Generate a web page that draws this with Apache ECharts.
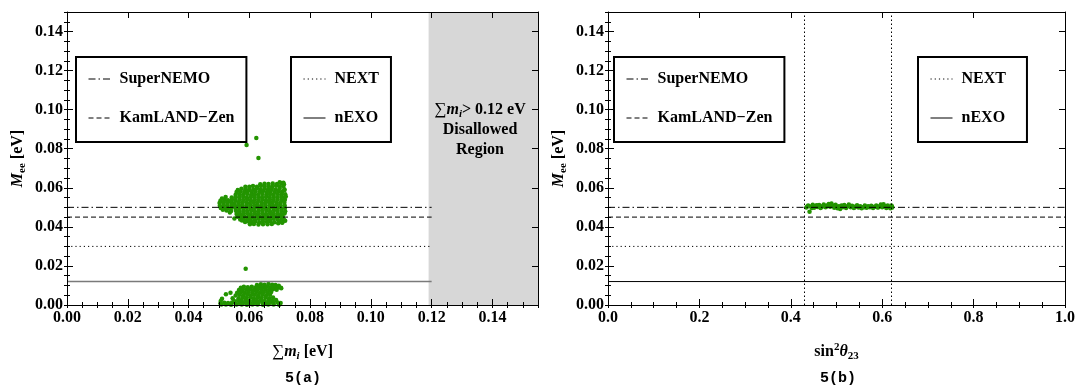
<!DOCTYPE html>
<html>
<head>
<meta charset="utf-8">
<script src="https://cdn.jsdelivr.net/npm/echarts@6/dist/echarts.min.js"></script>
<style>
  html, body { margin: 0; padding: 0; background: #fff; }
  #chart { width: 1078px; height: 387px; }
</style>
</head>
<body>
<div id="chart"></div>
<script>
// Mee vs sum of masses, upper blob [sum m_i (eV), Mee (eV)]
var sumBlobHigh = [
  [0.0636,0.0618],[0.0650,0.0621],[0.0663,0.0619],[0.0677,0.0622],[0.0691,0.0620],[0.0705,0.0623],[0.0714,0.0618],
  [0.0587,0.0605],[0.0600,0.0605],[0.0612,0.0609],[0.0625,0.0606],[0.0638,0.0610],[0.0650,0.0607],[0.0663,0.0609],[0.0675,0.0606],[0.0688,0.0610],[0.0700,0.0607],[0.0712,0.0609],
  [0.0562,0.0589],[0.0574,0.0595],[0.0587,0.0592],[0.0600,0.0594],[0.0613,0.0591],[0.0625,0.0596],[0.0637,0.0593],[0.0650,0.0595],[0.0662,0.0592],[0.0674,0.0594],[0.0687,0.0591],[0.0700,0.0595],[0.0715,0.0592],
  [0.0558,0.0578],[0.0570,0.0581],[0.0583,0.0579],[0.0595,0.0582],[0.0608,0.0578],[0.0620,0.0581],[0.0633,0.0579],[0.0645,0.0582],[0.0658,0.0578],[0.0670,0.0581],[0.0683,0.0579],[0.0696,0.0582],[0.0708,0.0578],
  [0.0555,0.0564],[0.0568,0.0567],[0.0580,0.0565],[0.0593,0.0568],[0.0606,0.0564],[0.0618,0.0567],[0.0630,0.0565],[0.0643,0.0568],[0.0656,0.0564],[0.0668,0.0567],[0.0680,0.0565],[0.0693,0.0568],[0.0705,0.0564],[0.0718,0.0567],
  [0.0542,0.0550],[0.0555,0.0553],[0.0567,0.0551],[0.0580,0.0554],[0.0592,0.0550],[0.0605,0.0553],[0.0617,0.0551],[0.0630,0.0554],[0.0642,0.0550],[0.0655,0.0553],[0.0667,0.0551],[0.0680,0.0554],[0.0692,0.0550],[0.0705,0.0553],[0.0716,0.0551],
  [0.0505,0.0534],[0.0518,0.0537],[0.0530,0.0536],[0.0543,0.0540],[0.0555,0.0536],[0.0568,0.0539],[0.0580,0.0537],[0.0593,0.0540],[0.0605,0.0536],[0.0618,0.0539],[0.0630,0.0537],[0.0643,0.0540],[0.0655,0.0536],[0.0668,0.0539],[0.0680,0.0537],[0.0693,0.0540],[0.0706,0.0536],[0.0717,0.0539],
  [0.0502,0.0522],[0.0514,0.0525],[0.0527,0.0523],[0.0540,0.0526],[0.0552,0.0522],[0.0565,0.0525],[0.0577,0.0523],[0.0590,0.0526],[0.0602,0.0522],[0.0615,0.0525],[0.0627,0.0523],[0.0640,0.0526],[0.0652,0.0522],[0.0665,0.0525],[0.0677,0.0523],[0.0690,0.0526],[0.0702,0.0522],[0.0715,0.0525],
  [0.0503,0.0508],[0.0516,0.0511],[0.0528,0.0509],[0.0541,0.0512],[0.0553,0.0508],[0.0566,0.0511],[0.0578,0.0509],[0.0591,0.0512],[0.0603,0.0508],[0.0616,0.0511],[0.0628,0.0509],[0.0641,0.0512],[0.0653,0.0508],[0.0666,0.0511],[0.0678,0.0509],[0.0691,0.0512],[0.0703,0.0508],[0.0716,0.0511],
  [0.0506,0.0497],[0.0517,0.0497],[0.0530,0.0495],[0.0542,0.0498],[0.0555,0.0494],[0.0567,0.0497],[0.0580,0.0495],[0.0592,0.0498],[0.0605,0.0494],[0.0617,0.0497],[0.0630,0.0495],[0.0642,0.0498],[0.0655,0.0494],[0.0667,0.0497],[0.0680,0.0495],[0.0692,0.0498],[0.0705,0.0494],[0.0717,0.0497],
  [0.0525,0.0484],[0.0540,0.0481],[0.0556,0.0483],[0.0568,0.0480],[0.0581,0.0484],[0.0593,0.0481],[0.0606,0.0483],[0.0618,0.0480],[0.0631,0.0484],[0.0643,0.0481],[0.0656,0.0483],[0.0668,0.0480],[0.0681,0.0484],[0.0693,0.0481],[0.0706,0.0483],[0.0718,0.0480],
  [0.0558,0.0466],[0.0568,0.0469],[0.0580,0.0467],[0.0593,0.0470],[0.0605,0.0466],[0.0618,0.0469],[0.0630,0.0467],[0.0643,0.0470],[0.0655,0.0466],[0.0668,0.0469],[0.0680,0.0467],[0.0693,0.0470],[0.0705,0.0466],[0.0716,0.0469],
  [0.0562,0.0452],[0.0573,0.0455],[0.0585,0.0453],[0.0598,0.0456],[0.0610,0.0452],[0.0623,0.0455],[0.0635,0.0453],[0.0648,0.0456],[0.0660,0.0452],[0.0673,0.0455],[0.0685,0.0453],[0.0698,0.0456],[0.0710,0.0452],
  [0.0570,0.0438],[0.0580,0.0441],[0.0593,0.0439],[0.0605,0.0442],[0.0618,0.0438],[0.0630,0.0441],[0.0643,0.0439],[0.0655,0.0442],[0.0668,0.0438],[0.0680,0.0441],[0.0693,0.0439],[0.0706,0.0442],[0.0714,0.0436],
  [0.0586,0.0425],[0.0597,0.0427],[0.0608,0.0425],[0.0620,0.0428],[0.0633,0.0424],[0.0645,0.0427],[0.0658,0.0425],[0.0670,0.0428],[0.0683,0.0424],[0.0698,0.0427],[0.0709,0.0424],
  [0.0602,0.0413],[0.0615,0.0415],[0.0630,0.0412],[0.0645,0.0414],[0.0660,0.0413],[0.0674,0.0415],[0.0695,0.0418],
  [0.0522,0.0553],[0.0551,0.0443],[0.0536,0.0474],[0.0720,0.0556],[0.0718,0.0431],[0.0708,0.0421],[0.0576,0.0432],[0.0716,0.0589],
  [0.0700,0.0628],[0.0712,0.0626],[0.0513,0.0488],[0.0510,0.0545]
];
// lower blob
var sumBlobLow = [
  [0.0625,0.0103],[0.0638,0.0106],[0.0650,0.0104],[0.0663,0.0107],[0.0675,0.0104],[0.0686,0.0102],
  [0.0572,0.0088],[0.0582,0.0093],[0.0595,0.0091],[0.0608,0.0094],[0.0620,0.0090],[0.0633,0.0093],[0.0645,0.0091],[0.0658,0.0094],[0.0670,0.0090],[0.0682,0.0093],[0.0695,0.0091],[0.0704,0.0088],
  [0.0566,0.0077],[0.0578,0.0080],[0.0590,0.0078],[0.0603,0.0081],[0.0615,0.0077],[0.0628,0.0080],[0.0640,0.0078],[0.0653,0.0081],[0.0665,0.0077],[0.0678,0.0080],[0.0690,0.0078],
  [0.0560,0.0063],[0.0573,0.0066],[0.0585,0.0064],[0.0598,0.0067],[0.0610,0.0063],[0.0623,0.0066],[0.0635,0.0064],[0.0648,0.0067],[0.0660,0.0063],[0.0672,0.0066],
  [0.0555,0.0049],[0.0568,0.0052],[0.0580,0.0050],[0.0593,0.0053],[0.0605,0.0049],[0.0618,0.0052],[0.0630,0.0050],[0.0643,0.0053],[0.0655,0.0049],[0.0668,0.0052],
  [0.0565,0.0035],[0.0578,0.0038],[0.0590,0.0036],[0.0603,0.0039],[0.0615,0.0035],[0.0628,0.0038],[0.0640,0.0036],[0.0653,0.0039],[0.0665,0.0035],[0.0678,0.0038],
  [0.0550,0.0021],[0.0563,0.0024],[0.0575,0.0022],[0.0588,0.0025],[0.0600,0.0021],[0.0613,0.0024],[0.0625,0.0022],[0.0638,0.0025],[0.0650,0.0021],[0.0663,0.0024],[0.0675,0.0022],[0.0688,0.0025],
  [0.0505,0.0009],[0.0518,0.0012],[0.0530,0.0010],[0.0543,0.0013],[0.0555,0.0009],[0.0568,0.0012],[0.0580,0.0010],[0.0593,0.0013],[0.0605,0.0009],[0.0618,0.0012],[0.0630,0.0010],[0.0643,0.0013],[0.0655,0.0009],[0.0668,0.0012],[0.0680,0.0010],[0.0693,0.0013],[0.0703,0.0010],
  [0.0508,0.0002],[0.0523,0.0003],[0.0540,0.0001],[0.0558,0.0003],[0.0575,0.0002],[0.0592,0.0001],[0.0610,0.0003],[0.0627,0.0002],[0.0645,0.0001],[0.0662,0.0003],[0.0680,0.0002],[0.0698,0.0001],
  [0.0510,0.0032],[0.0523,0.0055],[0.0538,0.0063],[0.0506,0.0020],[0.0705,0.0086],[0.0697,0.0098],[0.0545,0.0035]
];
// isolated points
var sumStray = [[0.0591,0.0819],[0.0623,0.0855],[0.0630,0.0753],[0.0588,0.0186]];

// Mee vs sin^2 theta23 [s23sq, Mee (eV)]
var s23Points = [
  [0.434,0.0499],[0.438,0.0510],[0.441,0.0478],[0.444,0.0504],[0.448,0.0513],[0.451,0.0498],[0.455,0.0508],[0.458,0.0502],[0.462,0.0512],[0.465,0.0497],
  [0.469,0.0505],[0.472,0.0515],[0.476,0.0500],[0.479,0.0509],[0.483,0.0517],[0.486,0.0503],[0.489,0.0519],[0.492,0.0508],[0.495,0.0498],[0.498,0.0513],
  [0.502,0.0495],[0.505,0.0506],[0.508,0.0492],[0.511,0.0510],[0.514,0.0500],[0.517,0.0512],[0.521,0.0497],[0.524,0.0505],[0.527,0.0514],[0.531,0.0501],
  [0.534,0.0508],[0.538,0.0496],[0.541,0.0504],[0.545,0.0511],[0.548,0.0499],[0.552,0.0506],[0.555,0.0495],[0.559,0.0502],[0.562,0.0509],[0.566,0.0498],
  [0.569,0.0505],[0.573,0.0500],[0.576,0.0508],[0.580,0.0497],[0.583,0.0503],[0.587,0.0510],[0.590,0.0499],[0.594,0.0505],[0.597,0.0514],[0.600,0.0501],
  [0.603,0.0516],[0.606,0.0506],[0.609,0.0497],[0.612,0.0509],[0.615,0.0501],[0.618,0.0495],[0.621,0.0505],[0.622,0.0499],
  [0.436,0.0504],[0.446,0.0497],[0.457,0.0511],[0.467,0.0501],[0.478,0.0504],[0.488,0.0511],[0.497,0.0504],[0.507,0.0502],[0.518,0.0504],[0.529,0.0506],
  [0.540,0.0500],[0.550,0.0502],[0.561,0.0501],[0.571,0.0503],[0.582,0.0502],[0.592,0.0501],[0.602,0.0508],[0.611,0.0503],[0.620,0.0509]
];

// experimental sensitivities on Mee (eV)
var limitNames = ['SuperNEMO', 'KamLAND\u2212Zen', 'NEXT', 'nEXO'];
var limitValues = [0.05, 0.045, 0.03, 0.012];
var limitDash = [[7, 3, 1.5, 3], [5, 3], [1.2, 3], 'solid'];

var sumLimitSpan = [0, 0.12];     // lines drawn up to the cosmological bound
var disallowedSum = [0.119, 0.155];
var s23Span = [0, 1];
var s23Bounds = [0.432, 0.623];

var FONT = '"Liberation Serif", "Times New Roman", serif';
var chart = echarts.init(document.getElementById('chart'));

var rich = {
  b: { fontFamily: FONT, fontWeight: 'bold', fontSize: 16, lineHeight: 20, color: '#000' },
  i: { fontFamily: FONT, fontWeight: 'bold', fontStyle: 'italic', fontSize: 16, lineHeight: 20, color: '#000' },
  s: { fontFamily: FONT, fontSize: 17, lineHeight: 20, color: '#000' },
  sub: { fontFamily: FONT, fontWeight: 'bold', fontSize: 11, lineHeight: 12, verticalAlign: 'bottom', color: '#000' },
  isub: { fontFamily: FONT, fontWeight: 'bold', fontStyle: 'italic', fontSize: 11, lineHeight: 12, verticalAlign: 'bottom', color: '#000' },
  sup: { fontFamily: FONT, fontWeight: 'bold', fontSize: 11, lineHeight: 12, verticalAlign: 'top', color: '#000' }
};

function labelFmt(step, digits) {
  return function (v) {
    var k = v / step;
    return Math.abs(k - Math.round(k)) < 1e-6 ? v.toFixed(digits) : '';
  };
}

// four axes per side pair: labelled major, minor, mirrored major, mirrored minor
function frameAxes(grid, dim, min, max, major, minor, digits, extra) {
  var pos = dim === 'x' ? ['bottom', 'top'] : ['left', 'right'];
  var line = { show: true, onZero: false, lineStyle: { color: '#000', width: 1 } };
  function ax(p, step, isMajor, labelled) {
    var a = {
      type: 'value', gridIndex: grid, min: min, max: max, interval: step, position: p,
      silent: true, z: 10,
      splitLine: { show: false },
      axisLine: isMajor ? line : { show: false },
      axisTick: { show: true, inside: true, length: isMajor ? 6 : 3, lineStyle: { color: '#000', width: 1 } },
      axisLabel: labelled ? {
        show: true, formatter: labelFmt(major, digits), color: '#000',
        fontFamily: FONT, fontWeight: 'bold', fontSize: 16, margin: dim === 'x' ? 5 : 4
      } : { show: false }
    };
    return labelled ? Object.assign(a, extra) : a;
  }
  return [ax(pos[0], major, true, true), ax(pos[0], minor, false, false),
          ax(pos[1], major, true, false), ax(pos[1], minor, false, false)];
}

var yName = { name: '{i|M}{sub|ee}{b| [eV]}', nameLocation: 'middle', nameGap: 39, nameTextStyle: { rich: rich } };

var xAxes = frameAxes(0, 'x', 0, 0.155, 0.02, 0.005, 2,
    { name: '{s|\u2211}{i|m}{isub|i}{b| [eV]}', nameLocation: 'middle', nameGap: 37, nameTextStyle: { rich: rich } })
  .concat(frameAxes(1, 'x', 0, 1, 0.2, 0.05, 1,
    { name: '{b|sin}{sup|2}{i|\u03b8}{sub|23}', nameLocation: 'middle', nameGap: 37, nameTextStyle: { rich: rich } }));
var yAxes = frameAxes(0, 'y', 0, 0.15, 0.02, 0.005, 2, yName)
  .concat(frameAxes(1, 'y', 0, 0.15, 0.02, 0.005, 2, yName));

function limitSeries(axisIdx, span, lastColor, lastWidth) {
  return limitNames.map(function (n, i) {
    var last = i === limitNames.length - 1;
    return {
      type: 'line', name: n, xAxisIndex: axisIdx, yAxisIndex: axisIdx,
      data: [[span[0], limitValues[i]], [span[1], limitValues[i]]],
      symbol: 'none', silent: true, z: 4,
      lineStyle: { color: last ? lastColor : '#000', width: last ? lastWidth : 1, type: limitDash[i] }
    };
  });
}

var dotStyle = { color: '#239400', opacity: 1 };

// right-panel limits first so the legend icons take their black style
var series = limitSeries(4, s23Span, '#000', 1)
 .concat(limitSeries(0, sumLimitSpan, '#7a7a7a', 1.6))
 .concat([
  {
    type: 'line', name: 'disallowed', xAxisIndex: 0, yAxisIndex: 0, data: [], z: 1, silent: true,
    markArea: {
      silent: true,
      itemStyle: { color: '#d7d7d7' },
      label: {
        show: true, position: ['47%', 88], align: 'center', verticalAlign: 'top',
        formatter: '{s|\u2211}{i|m}{isub|i}{b|> 0.12 eV}\n{b|Disallowed}\n{b|Region}',
        rich: rich
      },
      data: [[{ xAxis: disallowedSum[0] }, { xAxis: disallowedSum[1] }]]
    }
  },
  { type: 'scatter', name: 'sum-high', xAxisIndex: 0, yAxisIndex: 0, data: sumBlobHigh, symbolSize: 4.5, itemStyle: dotStyle, z: 3, silent: true },
  { type: 'scatter', name: 'sum-low', xAxisIndex: 0, yAxisIndex: 0, data: sumBlobLow, symbolSize: 4.5, itemStyle: dotStyle, z: 3, silent: true },
  { type: 'scatter', name: 'sum-stray', xAxisIndex: 0, yAxisIndex: 0, data: sumStray, symbolSize: 4.5, itemStyle: dotStyle, z: 3, silent: true },
  {
    type: 'scatter', name: 's23', xAxisIndex: 4, yAxisIndex: 4, data: s23Points, symbolSize: 4.5, itemStyle: dotStyle, z: 3, silent: true,
    markLine: {
      silent: true, symbol: 'none', label: { show: false },
      lineStyle: { color: '#000', width: 1, type: [1.5, 2.5] },
      data: s23Bounds.map(function (b) { return { xAxis: b }; })
    }
  }
]);

function box(names, left, padRight) {
  return {
    data: names, left: left, top: 57, orient: 'vertical', selectedMode: false,
    itemWidth: 22, itemHeight: 16, itemGap: 23,
    padding: [14, padRight, 16, 12],
    borderColor: '#000', borderWidth: 2, borderRadius: 0,
    lineStyle: { color: '#000', width: 1 },
    itemStyle: { opacity: 0 },
    textStyle: { fontFamily: FONT, fontWeight: 'bold', fontSize: 16, lineHeight: 16, color: '#000', padding: [0, 0, 0, 4] }
  };
}

chart.setOption({
  animation: false,
  grid: [
    { left: 67, right: 540, top: 12, bottom: 82 },
    { left: 608, right: 10, top: 12, bottom: 82 }
  ],
  xAxis: xAxes,
  yAxis: yAxes,
  legend: [
    box(limitNames.slice(0, 2), 76, 12),
    box(limitNames.slice(2), 291, 12),
    box(limitNames.slice(0, 2), 614, 12),
    box(limitNames.slice(2), 918, 21)
  ],
  graphic: [
    { type: 'text', x: 303, y: 378, style: { text: '5(a)', textAlign: 'center', textVerticalAlign: 'middle', font: 'bold 15px "Liberation Mono", monospace', fill: '#000' } },
    { type: 'text', x: 838, y: 378, style: { text: '5(b)', textAlign: 'center', textVerticalAlign: 'middle', font: 'bold 15px "Liberation Mono", monospace', fill: '#000' } }
  ],
  series: series
});
</script>
</body>
</html>
